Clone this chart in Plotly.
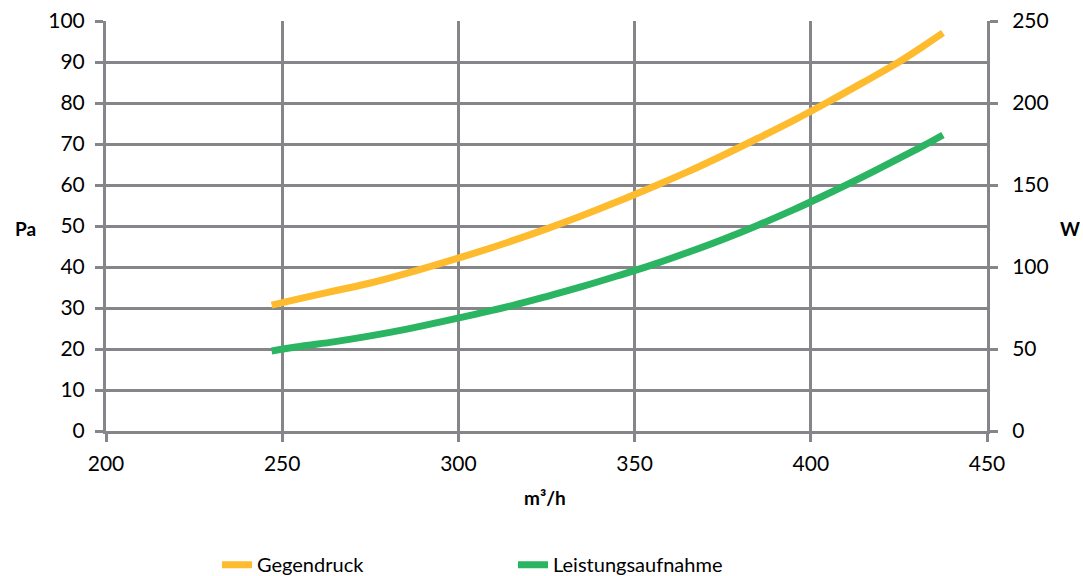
import plotly.graph_objects as go

# Data
flow_gegendruck = [247, 255, 265, 275, 285, 295, 305, 315, 325, 335, 345, 355,
                   365, 375, 385, 395, 405, 415, 425, 432, 437.5]
gegendruck_pa = [30.7, 32.3, 34.2, 36.1, 38.4, 40.9, 43.5, 46.3, 49.3, 52.5, 55.9, 59.5,
                 63.2, 67.2, 71.4, 75.7, 80.3, 85.1, 90.0, 93.9, 97.1]

flow_leistung = [247, 255, 265, 275, 285, 295, 305, 315, 325, 335, 345, 355,
                 365, 375, 385, 395, 405, 415, 425, 432, 437.5]
leistung_w = [48.8, 51.5, 54.5, 58.0, 62.0, 66.5, 71.3, 76.3, 82.0, 88.0, 94.5, 101.3,
              108.8, 116.8, 125.5, 134.8, 144.8, 155.3, 166.3, 174.0, 180.5]

x_ticks = [200, 250, 300, 350, 400, 450]
y_left_ticks = [0, 10, 20, 30, 40, 50, 60, 70, 80, 90, 100]
y_right_ticks = [0, 50, 100, 150, 200, 250]

ORANGE = "#FDBB2D"
GREEN = "#2BB462"
GRID = "#86868a"
FONT = "Lato"

fig = go.Figure()
fig.add_trace(go.Scatter(x=flow_gegendruck, y=gegendruck_pa, mode="lines",
                         name="Gegendruck", line=dict(color=ORANGE, width=7, shape="spline"),
                         yaxis="y"))
fig.add_trace(go.Scatter(x=flow_leistung, y=leistung_w, mode="lines",
                         name="Leistungsaufnahme", line=dict(color=GREEN, width=7, shape="spline"),
                         yaxis="y2"))

fig.update_layout(
    width=1083, height=576,
    margin=dict(l=106, r=96, t=21, b=145, autoexpand=False),
    paper_bgcolor="white", plot_bgcolor="white",
    font=dict(family=FONT, size=21, color="black"),
    showlegend=True,
    legend=dict(orientation="h", x=0.126, xanchor="left", y=-0.326, yanchor="middle",
                font=dict(size=20), entrywidth=251, entrywidthmode="pixels",
                bgcolor="rgba(0,0,0,0)"),
    xaxis=dict(range=[200, 450], tickvals=x_ticks, showgrid=True, gridcolor=GRID, gridwidth=3,
               showline=True, linecolor=GRID, linewidth=3, mirror=False, automargin=False,
               ticks="outside", ticklen=8, tickwidth=3, tickcolor=GRID,
               zeroline=False, ticklabelstandoff=4),
    yaxis=dict(range=[0, 100], tickvals=y_left_ticks, showgrid=True, gridcolor=GRID, gridwidth=3,
               showline=True, linecolor=GRID, linewidth=3, automargin=False,
               ticks="outside", ticklen=8, tickwidth=3, tickcolor=GRID,
               zeroline=False, ticklabelstandoff=6),
    yaxis2=dict(range=[0, 250], tickvals=y_right_ticks, overlaying="y", side="right",
                showgrid=False, showline=True, linecolor=GRID, linewidth=3, automargin=False,
                ticks="outside", ticklen=8, tickwidth=3, tickcolor=GRID,
                zeroline=False, ticklabelstandoff=10),
    annotations=[
        dict(text="<b>Pa</b>", xref="paper", yref="paper", x=(25 - 106) / 881, y=(431 - 228) / 410,
             showarrow=False, xanchor="center", yanchor="middle", font=dict(size=19)),
        dict(text="<b>W</b>", xref="paper", yref="paper", x=(1070 - 106) / 881, y=(431 - 228) / 410,
             showarrow=False, xanchor="center", yanchor="middle", font=dict(size=19)),
        dict(text="<b>m³/h</b>", xref="paper", yref="paper", x=(545 - 106) / 881, y=(431 - 498) / 410,
             showarrow=False, xanchor="center", yanchor="middle", font=dict(size=19)),
    ],
)

fig.write_html("out.html", config={"displayModeBar": False},
               post_script="document.body.style.margin='0';")
